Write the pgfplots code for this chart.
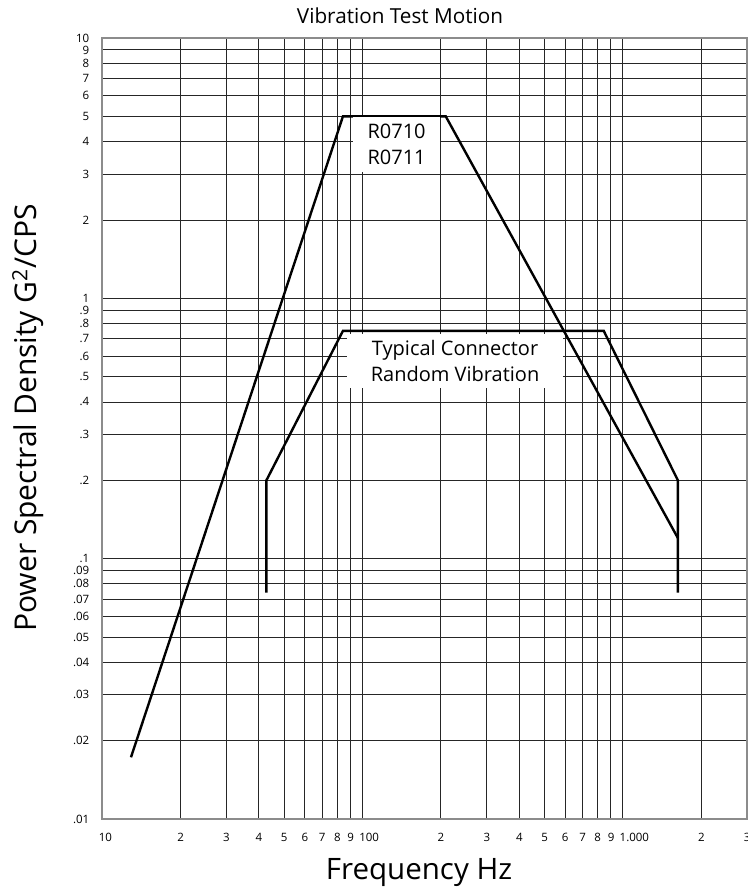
\documentclass[border=0pt]{standalone}
\usepackage{fontspec}
\setmainfont{Open Sans}
\usepackage{pgfplots}
\pgfplotsset{compat=1.18}
\begin{document}
\begin{tikzpicture}[x=1pt,y=1pt]
\begin{axis}[
  at={(102pt,71pt)}, anchor=south west,
  scale only axis, width=645pt, height=781pt,
  xmode=log, ymode=log,
  xmin=10, xmax=3000, ymin=0.01, ymax=10,
  xtick={10,20,30,40,50,60,70,80,90,100,200,300,400,500,600,700,800,900,1000,2000,3000},
  xticklabels={10,2,3,4,5,6,7,8,9,100,2,3,4,5,6,7,8,9,1.000,2,3},
  ytick={0.01,0.02,0.03,0.04,0.05,0.06,0.07,0.08,0.09,0.1,0.2,0.3,0.4,0.5,0.6,0.7,0.8,0.9,1,2,3,4,5,6,7,8,9,10},
  yticklabels={.01,.02,.03,.04,.05,.06,.07,.08,.09,.1,.2,.3,.4,.5,.6,.7,.8,.9,1,2,3,4,5,6,7,8,9,10},
  minor tick num=0,
  major tick length=0pt,
  tick label style={font=\fontsize{11.5}{12}\selectfont},
  xticklabel style={inner sep=0pt, anchor=north west, xshift=-3.3pt, yshift=-14pt},
  yticklabel style={inner sep=0pt, anchor=east, xshift=-12.5pt},
  grid=major,
  major grid style={black!85, line width=0.85pt},
  axis line style={black!45, line width=1.4pt},
  clip=false,
]
\addplot[black, line width=2.4pt] coordinates {(12.92,0.01726) (84.2,5) (209,5) (1628,0.12)};
\addplot[black, line width=2.4pt] coordinates {(42.8,0.074) (42.8,0.2) (84.2,0.75) (845,0.75) (1628,0.2) (1628,0.074)};
\node[fill=white, inner sep=0pt, minimum width=87pt, minimum height=55pt, align=center,
      font=\fontsize{20}{26}\selectfont] at (axis cs:135.3,3.90) {R0710\\R0711};
\node[fill=white, inner sep=0pt, minimum width=216pt, minimum height=54pt, align=center,
      font=\fontsize{20}{26.5}\selectfont] at (axis cs:227,0.5748) {Typical Connector\\Random Vibration};
\end{axis}
\node[font=\fontsize{20.7}{24}\selectfont, inner sep=0pt] at (400,874.5) {Vibration Test Motion};
\node[font=\fontsize{30}{34}\selectfont, inner sep=0pt, rotate=90] at (28,472) {Power Spectral Density G\textsuperscript{2}/CPS};
\node[font=\fontsize{29.5}{34}\selectfont, inner sep=0pt] at (419,17) {Frequency Hz};
\pgfresetboundingbox
\path[use as bounding box] (0,0) rectangle (747,890);
\end{tikzpicture}
\end{document}
